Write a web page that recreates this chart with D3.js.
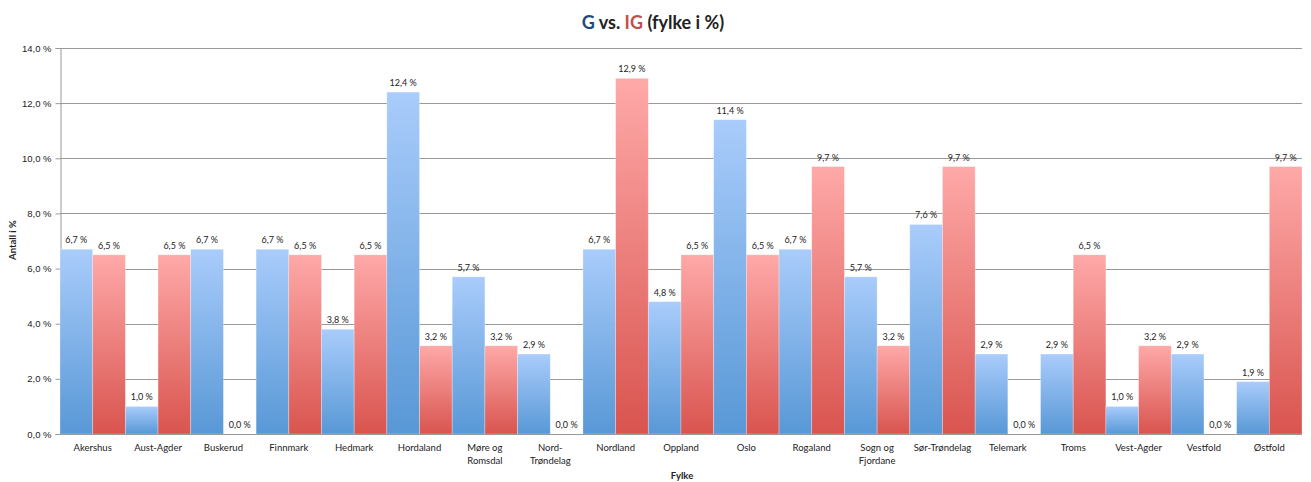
<!DOCTYPE html>
<html>
<head>
<meta charset="utf-8">
<script src="https://cdn.jsdelivr.net/npm/d3@7"></script>
<style>
  html, body { margin: 0; padding: 0; background: #fff; }
  svg { display: block; font-family: Lato, "Open Sans", "Liberation Sans", sans-serif; }
</style>
</head>
<body>
<svg id="chart" width="1311" height="482"></svg>
<script>
// County names (x categories)
const fylker = ["Akershus", "Aust-Agder", "Buskerud", "Finnmark", "Hedmark", "Hordaland",
  "Møre og|Romsdal", "Nord-|Trøndelag", "Nordland", "Oppland", "Oslo", "Rogaland",
  "Sogn og|Fjordane", "Sør-Trøndelag", "Telemark", "Troms", "Vest-Agder", "Vestfold", "Østfold"];
// Series G (blue), percent
const gValues = [6.7, 1.0, 6.7, 6.7, 3.8, 12.4, 5.7, 2.9, 6.7, 4.8, 11.4, 6.7, 5.7, 7.6, 2.9, 2.9, 1.0, 2.9, 1.9];
// Series IG (red), percent
const igValues = [6.5, 6.5, 0.0, 6.5, 6.5, 3.2, 3.2, 0.0, 12.9, 6.5, 6.5, 9.7, 3.2, 9.7, 0.0, 6.5, 3.2, 0.0, 9.7];
// Y axis ticks
const yTicks = [0, 2, 4, 6, 8, 10, 12, 14];

const series = [
  { key: "G", values: gValues, top: "#a9ccfb", bottom: "#5898d6" },
  { key: "IG", values: igValues, top: "#fea9a8", bottom: "#d9544f" }
];

const svg = d3.select("#chart");
const margin = { left: 60, right: 9, top: 48, bottom: 48 };
const W = 1311, H = 482;
const x0 = margin.left, x1 = W - margin.right;
const yTop = margin.top, yBot = H - margin.bottom;

const x = d3.scaleBand().domain(d3.range(fylker.length)).range([x0, x1]).padding(0);
const xs = d3.scaleBand().domain(series.map(s => s.key)).range([0, x.bandwidth()]).padding(0);
const y = d3.scaleLinear().domain([0, 14]).range([yBot, yTop]);

const fmt = v => d3.format(".1f")(v).replace(".", ",") + " %";

// Gradients, one per series, per-bar bounding box
const defs = svg.append("defs");
series.forEach(s => {
  const g = defs.append("linearGradient").attr("id", "grad-" + s.key)
    .attr("x1", 0).attr("y1", 0).attr("x2", 0).attr("y2", 1);
  g.append("stop").attr("offset", "0%").attr("stop-color", s.top);
  g.append("stop").attr("offset", "100%").attr("stop-color", s.bottom);
});

// Title
const title = svg.append("text").attr("x", 653).attr("y", 29).attr("text-anchor", "middle")
  .attr("font-size", 18).attr("font-weight", "bold").attr("fill", "#222");
title.append("tspan").attr("fill", "#1f497d").text("G");
title.append("tspan").text(" vs. ");
title.append("tspan").attr("fill", "#c0504d").text("IG");
title.append("tspan").text(" (fylke i %)");

// Grid lines
svg.append("g").selectAll("line").data(yTicks.filter(t => t > 0)).join("line")
  .attr("x1", x0).attr("x2", x1)
  .attr("y1", d => Math.round(y(d)) + 0.5).attr("y2", d => Math.round(y(d)) + 0.5)
  .attr("stroke", "#999").attr("stroke-width", 1);

// Y axis
const yAxis = svg.append("g").attr("transform", `translate(${x0 + 0.5},0)`)
  .call(d3.axisLeft(y).tickValues(yTicks).tickFormat(fmt).tickSize(5).tickPadding(4));
yAxis.select(".domain").attr("stroke", "#999");
yAxis.selectAll(".tick line").attr("stroke", "#999");
yAxis.selectAll(".tick text").attr("font-size", 9.5).attr("fill", "#222");

// Bars
const groups = svg.append("g").selectAll("g").data(fylker).join("g")
  .attr("transform", (d, i) => `translate(${x(i)},0)`);

series.forEach(s => {
  groups.append("rect")
    .attr("x", xs(s.key))
    .attr("width", xs.bandwidth())
    .attr("y", (d, i) => y(s.values[i]))
    .attr("height", (d, i) => yBot - y(s.values[i]))
    .attr("fill", `url(#grad-${s.key})`)
    .attr("stroke", "rgba(255,255,255,0.35)")
    .attr("stroke-width", 0.8);
  groups.append("text")
    .attr("x", xs(s.key) + xs.bandwidth() / 2)
    .attr("y", (d, i) => y(s.values[i]) - 6)
    .attr("text-anchor", "middle")
    .attr("font-size", 9)
    .attr("fill", "#222")
    .text((d, i) => fmt(s.values[i]));
});

// X axis line
svg.append("line").attr("x1", x0).attr("x2", x1)
  .attr("y1", yBot + 0.5).attr("y2", yBot + 0.5).attr("stroke", "#999");

// Category labels
svg.append("g").selectAll("text").data(fylker).join("text")
  .attr("x", (d, i) => x(i) + x.bandwidth() / 2)
  .attr("y", yBot + 17)
  .attr("text-anchor", "middle")
  .attr("font-size", 9.5)
  .attr("fill", "#222")
  .each(function(d) {
    const parts = d.split("|");
    d3.select(this).selectAll("tspan").data(parts).join("tspan")
      .attr("x", d3.select(this).attr("x"))
      .attr("dy", (p, k) => k === 0 ? 0 : 13)
      .text(p => p);
  });

// Axis titles
svg.append("text").attr("x", 682).attr("y", 479).attr("text-anchor", "middle")
  .attr("font-size", 9.5).attr("font-weight", "bold").attr("fill", "#222").text("Fylke");
svg.append("text").attr("transform", "translate(16,240) rotate(-90)").attr("text-anchor", "middle")
  .attr("font-size", 9.5).attr("font-weight", "bold").attr("fill", "#222").text("Antall i %");
</script>
</body>
</html>
